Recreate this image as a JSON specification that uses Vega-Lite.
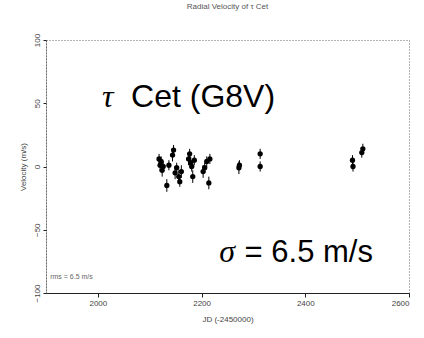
{
  "$schema": "https://vega.github.io/schema/vega-lite/v6.json",
  "width": 363,
  "height": 253,
  "autosize": "none",
  "padding": {"left": 46, "top": 40, "right": 15, "bottom": 45},
  "background": "white",
  "config": {
    "font": "Liberation Sans",
    "view": {"stroke": "#666", "strokeDash": [1, 2], "strokeWidth": 1}
  },
  "title": {"text": "Radial Velocity of τ Cet", "fontSize": 8, "fontWeight": "normal", "color": "#555", "offset": 22},
  "datasets": {
    "rv": [
      {"jd": 2118, "rv": 6, "err": 4},
      {"jd": 2120, "rv": 1, "err": 5},
      {"jd": 2122, "rv": 4, "err": 4},
      {"jd": 2124, "rv": -3, "err": 5},
      {"jd": 2126, "rv": 0, "err": 4},
      {"jd": 2133, "rv": -15, "err": 5},
      {"jd": 2137, "rv": 1, "err": 4},
      {"jd": 2144, "rv": 9, "err": 5},
      {"jd": 2146, "rv": 13, "err": 4},
      {"jd": 2149, "rv": -5, "err": 5},
      {"jd": 2152, "rv": -1, "err": 4},
      {"jd": 2156, "rv": -8, "err": 5},
      {"jd": 2158, "rv": -12, "err": 4},
      {"jd": 2161, "rv": -4, "err": 5},
      {"jd": 2175, "rv": 6, "err": 5},
      {"jd": 2177, "rv": 10, "err": 4},
      {"jd": 2179, "rv": 3, "err": 5},
      {"jd": 2181, "rv": 0, "err": 4},
      {"jd": 2183, "rv": -8, "err": 5},
      {"jd": 2186, "rv": 5, "err": 4},
      {"jd": 2203, "rv": -4, "err": 5},
      {"jd": 2206, "rv": -1, "err": 4},
      {"jd": 2210, "rv": 4, "err": 4},
      {"jd": 2214, "rv": -13, "err": 5},
      {"jd": 2216, "rv": 6, "err": 4},
      {"jd": 2272, "rv": -1, "err": 5},
      {"jd": 2273, "rv": 1, "err": 4},
      {"jd": 2313, "rv": 10, "err": 4},
      {"jd": 2313, "rv": 0, "err": 4},
      {"jd": 2491, "rv": 5, "err": 4},
      {"jd": 2492, "rv": 0, "err": 4},
      {"jd": 2509, "rv": 11, "err": 4},
      {"jd": 2511, "rv": 14, "err": 4}
    ]
  },
  "layer": [
    {
      "data": {"name": "rv"},
      "transform": [
        {"calculate": "datum.rv - datum.err", "as": "lo"},
        {"calculate": "datum.rv + datum.err", "as": "hi"}
      ],
      "mark": {"type": "rule", "color": "black", "strokeWidth": 1},
      "encoding": {
        "x": {
          "field": "jd", "type": "quantitative",
          "scale": {"domain": [1900, 2600], "nice": false},
          "axis": {
            "values": [2000, 2200, 2400, 2600],
            "format": "d",
            "title": "JD (-2450000)",
            "titleFontSize": 8, "titleFontWeight": "normal", "titleColor": "#444", "titlePadding": 8,
            "labelFontSize": 8, "labelColor": "#444",
            "domainColor": "#222", "tickColor": "#222", "tickSize": 4,
            "grid": false
          }
        },
        "y": {
          "field": "lo", "type": "quantitative",
          "scale": {"domain": [-100, 100], "nice": false},
          "axis": {
            "values": [-100, -50, 0, 50, 100],
            "title": "Velocity (m/s)",
            "titleFontSize": 8, "titleFontWeight": "normal", "titleColor": "#444", "titlePadding": 6,
            "labelFontSize": 8, "labelColor": "#444", "labelAngle": -90, "labelAlign": "center", "labelBaseline": "bottom",
            "domainColor": "#222", "domainDash": [1, 2], "tickColor": "#222", "tickSize": 3,
            "grid": false
          }
        },
        "y2": {"field": "hi"}
      }
    },
    {
      "data": {"name": "rv"},
      "mark": {"type": "point", "filled": true, "color": "black", "opacity": 1, "size": 28},
      "encoding": {
        "x": {"field": "jd", "type": "quantitative"},
        "y": {"field": "rv", "type": "quantitative"}
      }
    },
    {
      "data": {"values": [{"label": "τ"}]},
      "mark": {"type": "text", "align": "left", "baseline": "alphabetic", "fontSize": 32, "fontStyle": "italic", "color": "black", "font": "Liberation Serif"},
      "encoding": {
        "x": {"datum": 2008},
        "y": {"datum": 47},
        "text": {"field": "label"}
      }
    },
    {
      "data": {"values": [{"label": "Cet (G8V)"}]},
      "mark": {"type": "text", "align": "left", "baseline": "alphabetic", "fontSize": 32, "color": "black", "font": "Liberation Sans"},
      "encoding": {
        "x": {"datum": 2064},
        "y": {"datum": 47},
        "text": {"field": "label"}
      }
    },
    {
      "data": {"values": [{"label": "σ"}]},
      "mark": {"type": "text", "align": "left", "baseline": "alphabetic", "fontSize": 32, "fontStyle": "italic", "color": "black", "font": "Liberation Serif"},
      "encoding": {
        "x": {"datum": 2234},
        "y": {"datum": -75.4},
        "text": {"field": "label"}
      }
    },
    {
      "data": {"values": [{"label": "= 6.5 m/s"}]},
      "mark": {"type": "text", "align": "left", "baseline": "alphabetic", "fontSize": 31, "color": "black", "font": "Liberation Sans"},
      "encoding": {
        "x": {"datum": 2283},
        "y": {"datum": -75.4},
        "text": {"field": "label"}
      }
    },
    {
      "data": {"values": [{"label": "rms = 6.5 m/s"}]},
      "mark": {"type": "text", "align": "left", "baseline": "middle", "fontSize": 7, "color": "#666"},
      "encoding": {
        "x": {"datum": 1908},
        "y": {"datum": -87},
        "text": {"field": "label"}
      }
    }
  ]
}
